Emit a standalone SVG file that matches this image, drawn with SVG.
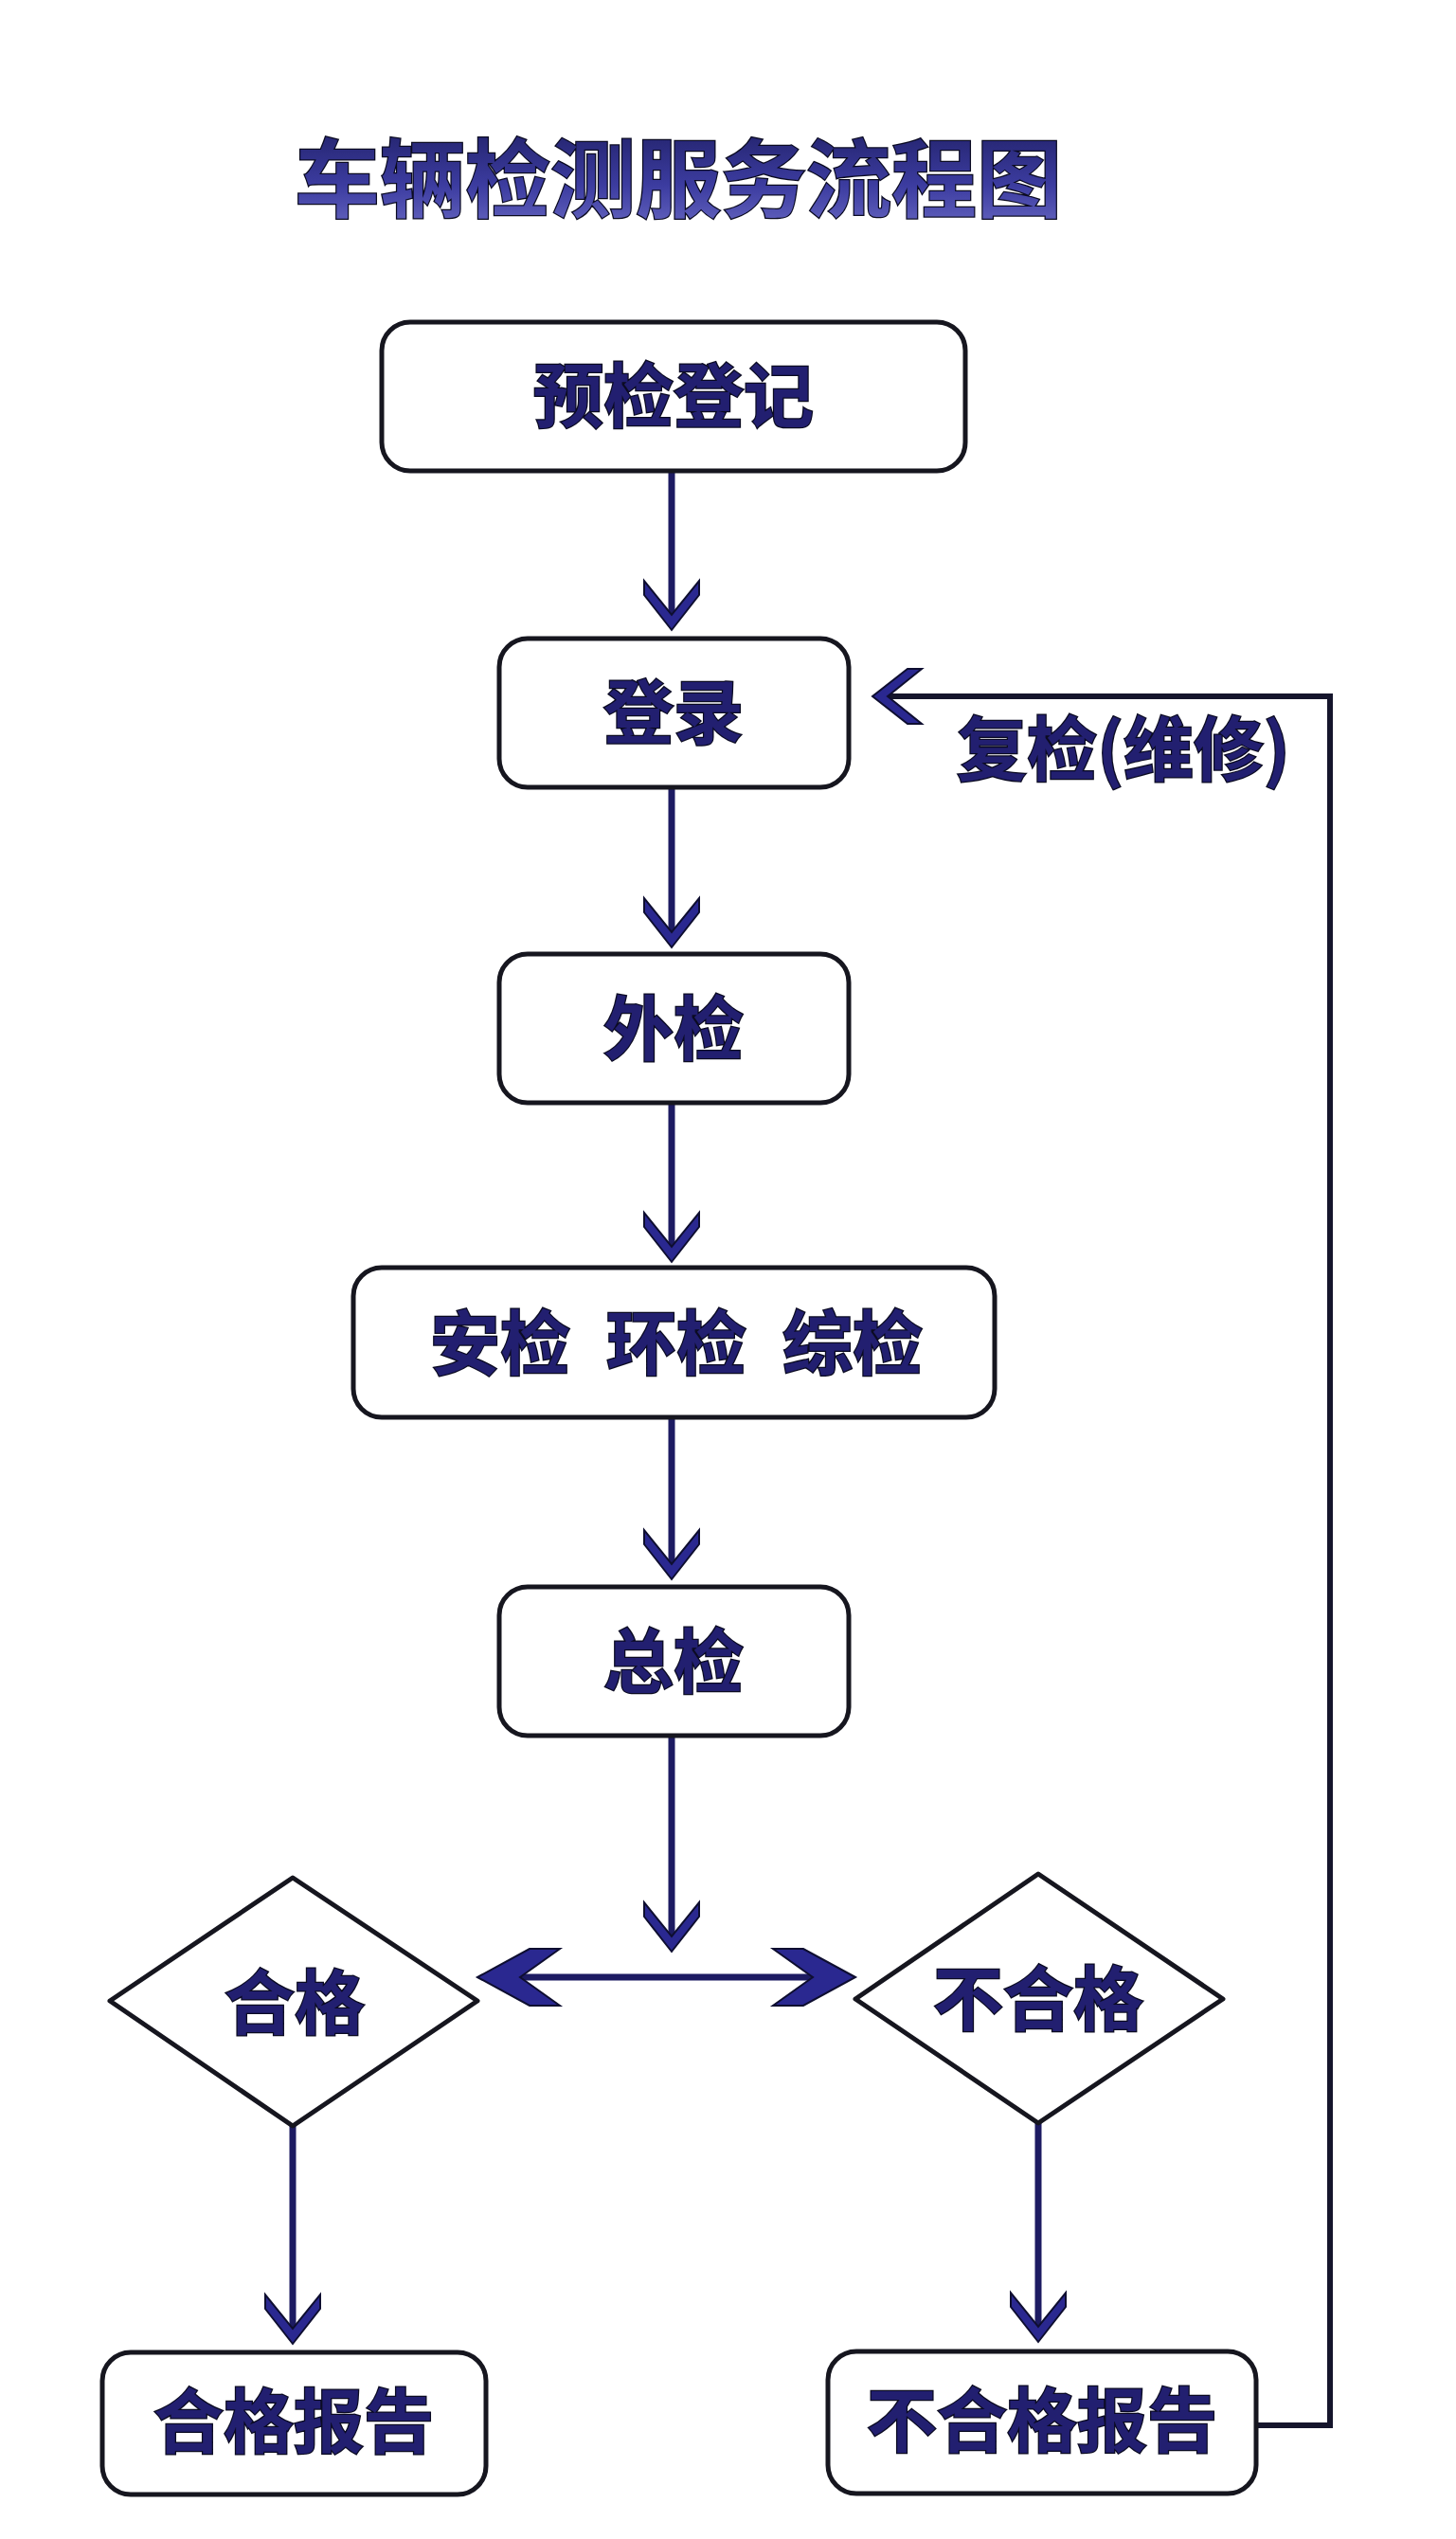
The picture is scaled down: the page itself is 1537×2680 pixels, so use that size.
<svg xmlns="http://www.w3.org/2000/svg" width="1537" height="2680" viewBox="0 0 1537 2680">
<defs>
<linearGradient id="tg" x1="0" y1="0" x2="0" y2="1">
<stop offset="0" stop-color="#1c1c5e"/>
<stop offset="0.6" stop-color="#3c3ca0"/>
<stop offset="1" stop-color="#6a6ac4"/>
</linearGradient>
<marker id="ah" markerUnits="userSpaceOnUse" markerWidth="60" markerHeight="60" refX="0" refY="0" orient="auto" style="overflow:visible">
<polygon points="15,0 -22,-29 -37,-29 -1,0 -37,29 -22,29" fill="#2a2890" stroke="#0e0e30" stroke-width="2"/>
</marker>
<marker id="big" markerUnits="userSpaceOnUse" markerWidth="90" markerHeight="70" refX="0" refY="0" orient="auto-start-reverse" style="overflow:visible">
<polygon points="15,0 -40,-30 -72,-30 -30,0 -72,30 -40,30" fill="#2a2890" stroke="#0e0e30" stroke-width="2"/>
</marker>
</defs>
<style>
.box{fill:#ffffff;stroke:#16161f;stroke-width:5}
.lbl{font-family:"Noto Sans CJK SC","Noto Sans",sans-serif;font-weight:700;font-size:74px;fill:#221f70;stroke:#0b0b22;stroke-width:2.5;paint-order:stroke;text-anchor:middle;dominant-baseline:central}
.title{font-family:"Noto Sans CJK SC","Noto Sans",sans-serif;font-weight:700;font-size:90px;fill:url(#tg);stroke:#0b0b22;stroke-width:2.5;paint-order:stroke;text-anchor:middle;dominant-baseline:central}
.flow{fill:none;stroke:#1d1b62;stroke-width:7}
.loop{fill:none;stroke:#15152c;stroke-width:6}
</style>
<rect width="1537" height="2680" fill="#ffffff"/>
<text class="title" x="716" y="183">车辆检测服务流程图</text>

<g id="connectors">
<line class="flow" x1="709" y1="498" x2="709" y2="650" marker-end="url(#ah)"/>
<line class="flow" x1="709" y1="831" x2="709" y2="985" marker-end="url(#ah)"/>
<line class="flow" x1="709" y1="1164" x2="709" y2="1317" marker-end="url(#ah)"/>
<line class="flow" x1="709" y1="1498" x2="709" y2="1652" marker-end="url(#ah)"/>
<line class="flow" x1="709" y1="1833" x2="709" y2="2045" marker-end="url(#ah)"/>
<line class="flow" x1="519" y1="2087" x2="888" y2="2087" marker-start="url(#big)" marker-end="url(#big)"/>
<line class="flow" x1="309" y1="2244" x2="309" y2="2459" marker-end="url(#ah)"/>
<line class="flow" x1="1096" y1="2241" x2="1096" y2="2457" marker-end="url(#ah)"/>
<polyline class="loop" points="1326,2560 1404,2560 1404,735 936,735" marker-end="url(#ah)"/>
<text class="lbl" x="1186" y="785">复检(维修)</text>
</g>

<g id="n1"><rect class="box" x="403" y="340" width="616" height="157" rx="30"/><text class="lbl" x="711" y="412">预检登记</text></g>
<g id="n2"><rect class="box" x="527" y="674" width="369" height="157" rx="30"/><text class="lbl" x="711" y="746">登录</text></g>
<g id="n3"><rect class="box" x="527" y="1007" width="369" height="157" rx="30"/><text class="lbl" x="711" y="1080">外检</text></g>
<g id="n4"><rect class="box" x="373" y="1338" width="677" height="158" rx="30"/><text class="lbl" y="1412"><tspan x="528">安检</tspan><tspan x="714">环检</tspan><tspan x="900">综检</tspan></text></g>
<g id="n5"><rect class="box" x="527" y="1675" width="369" height="157" rx="30"/><text class="lbl" x="711" y="1748">总检</text></g>
<g id="d1"><polygon class="box" points="309,1982 504,2112 309,2244 116,2112" stroke-linejoin="round"/><text class="lbl" x="311" y="2108">合格</text></g>
<g id="d2"><polygon class="box" points="1096,1978 1291,2110 1096,2241 903,2110" stroke-linejoin="round"/><text class="lbl" x="1096" y="2104">不合格</text></g>
<g id="n6"><rect class="box" x="108" y="2483" width="405" height="150" rx="30"/><text class="lbl" x="310" y="2550">合格报告</text></g>
<g id="n7"><rect class="box" x="874" y="2482" width="452" height="150" rx="30"/><text class="lbl" x="1100" y="2549">不合格报告</text></g>
</svg>
